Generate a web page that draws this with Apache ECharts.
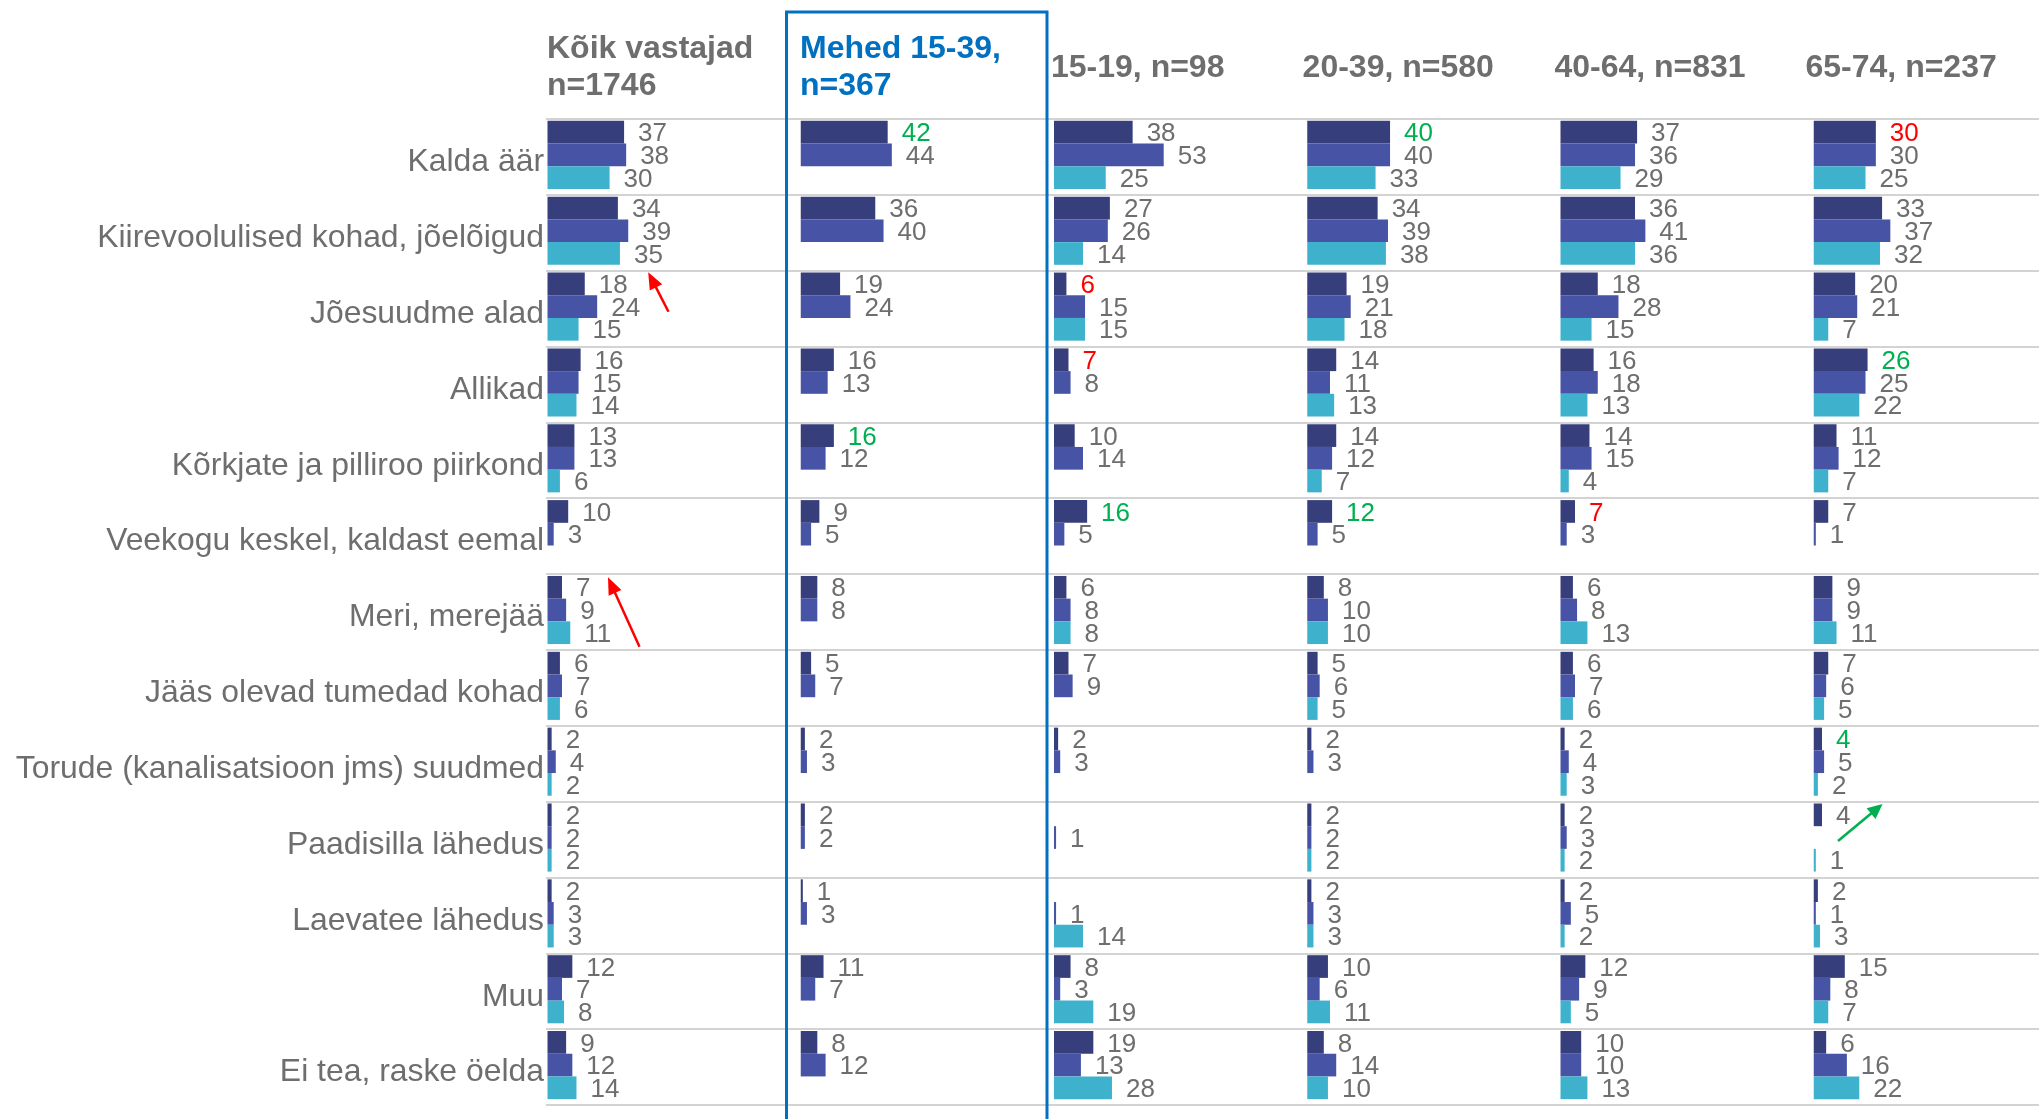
<!DOCTYPE html>
<html><head><meta charset="utf-8">
<script src="https://cdn.jsdelivr.net/npm/echarts@6/dist/echarts.min.js"></script>
<style>html,body{margin:0;padding:0;background:#fff}#c{width:2039px;height:1119px}</style>
</head><body><div id="c"></div>
<script>
// ---------- DATA ----------
const categories = ['Kalda äär','Kiirevoolulised kohad, jõelõigud','Jõesuudme alad','Allikad','Kõrkjate ja pilliroo piirkond','Veekogu keskel, kaldast eemal','Meri, merejää','Jääs olevad tumedad kohad','Torude (kanalisatsioon jms) suudmed','Paadisilla lähedus','Laevatee lähedus','Muu','Ei tea, raske öelda'];
const panelTitles = [['Kõik vastajad','n=1746'],['Mehed 15-39,','n=367'],['15-19, n=98'],['20-39, n=580'],['40-64, n=831'],['65-74, n=237']];

// three bars per category: top (dark), middle (blue), bottom (teal)
const koik_a  = [37,34,18,16,13,10,7,6,2,2,2,12,9];
const koik_b  = [38,39,24,15,13,3,9,7,4,2,3,7,12];
const koik_c  = [30,35,15,14,6,null,11,6,2,2,3,8,14];
const mehed_a = [42,36,19,16,16,9,8,5,2,2,1,11,8];
const mehed_b = [44,40,24,13,12,5,8,7,3,2,3,7,12];
const mehed_c = [null,null,null,null,null,null,null,null,null,null,null,null,null];
const y1519_a = [38,27,6,7,10,16,6,7,2,null,null,8,19];
const y1519_b = [53,26,15,8,14,5,8,9,3,1,1,3,13];
const y1519_c = [25,14,15,null,null,null,8,null,null,null,14,19,28];
const y2039_a = [40,34,19,14,14,12,8,5,2,2,2,10,8];
const y2039_b = [40,39,21,11,12,5,10,6,3,2,3,6,14];
const y2039_c = [33,38,18,13,7,null,10,5,null,2,3,11,10];
const y4064_a = [37,36,18,16,14,7,6,6,2,2,2,12,10];
const y4064_b = [36,41,28,18,15,3,8,7,4,3,5,9,10];
const y4064_c = [29,36,15,13,4,null,13,6,3,2,2,5,13];
const y6574_a = [30,33,20,26,11,7,9,7,4,4,2,15,6];
const y6574_b = [30,37,21,25,12,1,9,6,5,null,1,8,16];
const y6574_c = [25,32,7,22,7,null,11,5,2,1,3,7,22];

// highlighted labels: [panel, bar, category]
const greenLabels = [[1,0,0],[1,0,4],[2,0,5],[3,0,0],[3,0,5],[5,0,3],[5,0,8]];
const redLabels   = [[2,0,2],[2,0,3],[4,0,5],[5,0,0]];

const panels = [
  [koik_a, koik_b, koik_c],
  [mehed_a, mehed_b, mehed_c],
  [y1519_a, y1519_b, y1519_c],
  [y2039_a, y2039_b, y2039_c],
  [y4064_a, y4064_b, y4064_c],
  [y6574_a, y6574_b, y6574_c]
];

// ---------- STYLE / LAYOUT ----------
const FONT = '"Liberation Sans", Arial, sans-serif';
const GRAY = '#6e6e6e';
const GREEN = '#00B050';
const RED = '#FF0000';
const BLUE = '#0070C0';
const barColors = ['#363F7B', '#4753A5', '#3EB1CD'];
const TOP = 119, ROWS_H = 986;
const panelLeft = p => 547.5 + p * 253.25;
const headerX = [547, 800, 1051, 1302.6, 1554.4, 1805.5];

function labelColor(p, s, i) {
  if (greenLabels.some(g => g[0]===p && g[1]===s && g[2]===i)) return GREEN;
  if (redLabels.some(g => g[0]===p && g[1]===s && g[2]===i)) return RED;
  return GRAY;
}

// grid 0: row separators; grid 1: category labels
const grid = [
  { left: 546, right: 0, top: TOP, height: ROWS_H },
  { left: 546, right: 0, top: TOP + 5.5, height: ROWS_H }
];
const xAxis = [
  { gridIndex: 0, type: 'value', min: 0, max: 100, show: false },
  { gridIndex: 1, type: 'value', min: 0, max: 100, show: false }
];
const yAxis = [{
  gridIndex: 0, type: 'category', inverse: true, data: categories,
  axisLine: { show: false }, axisTick: { show: false }, axisLabel: { show: false },
  splitLine: { show: true, interval: 0, lineStyle: { color: '#d3d3d3', width: 2 } }
}, {
  gridIndex: 1, type: 'category', inverse: true, data: categories,
  axisLine: { show: false }, axisTick: { show: false }, splitLine: { show: false },
  axisLabel: { interval: 0, margin: 2, fontSize: 31.9, color: GRAY, fontFamily: FONT }
}];
const series = [];

panels.forEach((arrs, p) => {
  const gi = p + 2;
  grid.push({ left: panelLeft(p), width: 207, top: TOP - 2, height: ROWS_H });
  xAxis.push({ gridIndex: gi, type: 'value', min: 0, max: 100, show: false });
  yAxis.push({ gridIndex: gi, type: 'category', inverse: true, data: categories, show: false });
  arrs.forEach((vals, s) => {
    series.push({
      type: 'bar', xAxisIndex: gi, yAxisIndex: gi,
      barWidth: 22.7, barGap: '0%',
      itemStyle: { color: barColors[s] },
      label: { show: true, position: 'right', distance: 14, offset: [0, 2], fontSize: 26, fontFamily: FONT },
      silent: true, animation: false,
      data: vals.map((v, i) => v === null ? null : ({ value: v, label: { color: labelColor(p, s, i) } }))
    });
  });
});

// ---------- GRAPHICS (headers, box, arrows) ----------
const graphic = [];
panelTitles.forEach((lines, p) => {
  const color = p === 1 ? BLUE : GRAY;
  const ys = lines.length === 2 ? [48.8, 86.3] : [68.3];
  lines.forEach((t, k) => graphic.push({
    type: 'text', x: headerX[p], y: ys[k],
    style: { text: t, fill: color, fontSize: 32, fontWeight: 'bold', fontFamily: FONT, align: 'left', verticalAlign: 'middle' }
  }));
});
graphic.push({
  type: 'rect', z: 100, shape: { x: 786.5, y: 12, width: 260.5, height: 1200 },
  style: { fill: 'none', stroke: BLUE, lineWidth: 3 }
});
function arrow(x1, y1, x2, y2, color, hl, hw) {
  const dx = x2 - x1, dy = y2 - y1, len = Math.hypot(dx, dy), ux = dx / len, uy = dy / len;
  const bx = x2 - ux * hl, by = y2 - uy * hl;
  graphic.push({ type: 'line', z: 100, shape: { x1, y1, x2: bx + ux * 2, y2: by + uy * 2 }, style: { stroke: color, lineWidth: 2.5 } });
  graphic.push({ type: 'polygon', z: 100, shape: { points: [[x2, y2], [bx - uy * hw, by + ux * hw], [bx + uy * hw, by - ux * hw]] }, style: { fill: color } });
}
arrow(668.5, 311.7, 648.2, 272.3, RED, 17, 7);
arrow(639.5, 646.7, 608, 577.3, RED, 17, 7);
arrow(1838, 841, 1882.6, 804, GREEN, 15, 7);

const chart = echarts.init(document.getElementById('c'), null, { renderer: 'canvas' });
chart.setOption({ backgroundColor: '#fff', animation: false, grid, xAxis, yAxis, series, graphic });
</script></body></html>
